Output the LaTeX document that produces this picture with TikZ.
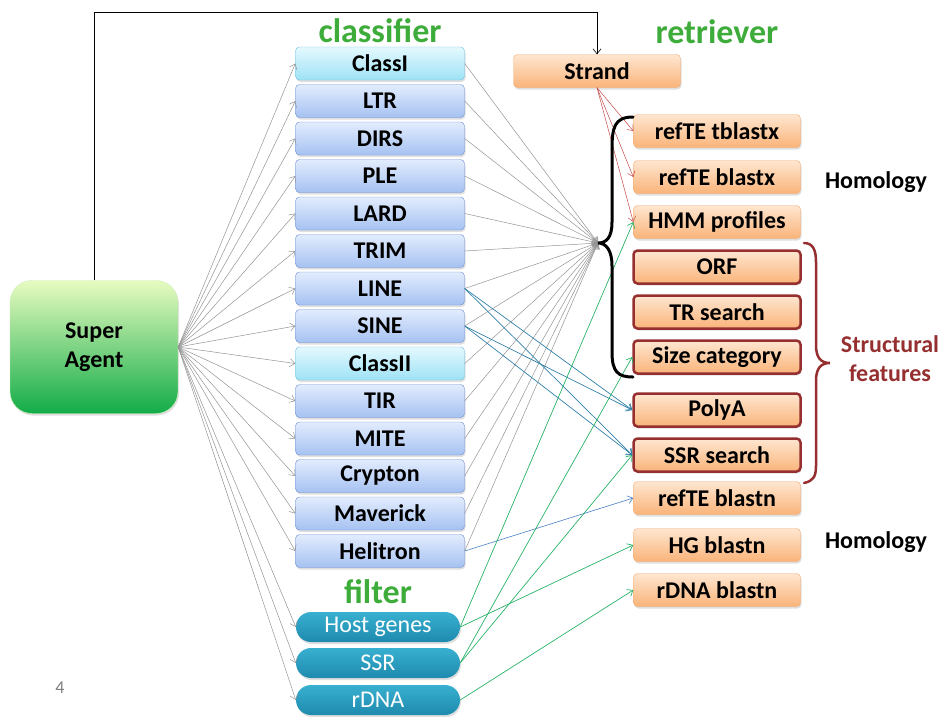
\documentclass[tikz,border=0pt]{standalone}
\usepackage{fontspec}
\setmainfont{Carlito}
\usetikzlibrary{arrows.meta,shadows}
\definecolor{clsline}{RGB}{112,142,212}
\definecolor{clstop}{RGB}{226,236,253}
\definecolor{clsbot}{RGB}{166,194,242}
\definecolor{cyline}{RGB}{112,192,222}
\definecolor{cytop}{RGB}{228,249,254}
\definecolor{cybot}{RGB}{158,226,246}
\definecolor{orline}{RGB}{244,170,112}
\definecolor{ortop}{RGB}{254,230,208}
\definecolor{orbot}{RGB}{250,180,122}
\definecolor{darkred}{RGB}{150,48,48}
\definecolor{titlegreen}{RGB}{62,172,58}
\definecolor{agtop}{RGB}{232,251,192}
\definecolor{agmid}{RGB}{176,232,144}
\definecolor{agbot}{RGB}{18,172,72}
\definecolor{fltop}{RGB}{56,176,208}
\definecolor{flbot}{RGB}{30,138,174}
\definecolor{tealline}{RGB}{48,128,168}
\definecolor{helline}{RGB}{72,128,196}
\definecolor{greenline}{RGB}{40,178,104}
\definecolor{redline}{RGB}{196,72,72}
\tikzset{
>={Straight Barb[length=5pt,width=8pt]},
box node/.style={rounded corners=4pt,minimum width=169pt,minimum height=33pt,inner sep=0pt,
  font=\fontsize{24}{26}\selectfont\bfseries,
  drop shadow={opacity=0.25,shadow xshift=1pt,shadow yshift=-2pt}},
class node/.style={box node,draw=clsline,top color=clstop,bottom color=clsbot},
top class node/.style={box node,draw=cyline,top color=cytop,bottom color=cybot},
ret node/.style={box node,minimum width=167pt,draw=orline,top color=ortop,bottom color=orbot},
struct node/.style={ret node,draw=darkred,line width=2.5pt},
filter node/.style={rounded corners=15pt,minimum width=164pt,minimum height=30pt,inner sep=0pt,
  top color=fltop,bottom color=flbot,text=white,font=\fontsize{24}{26}\selectfont,
  drop shadow={opacity=0.25,shadow xshift=1pt,shadow yshift=-2pt}},
agent node/.style={rounded corners=22pt,minimum width=168pt,minimum height=133pt,draw=agmid!70,
  top color=agtop,middle color=agmid,bottom color=agbot,align=center,
  font=\fontsize{24}{29}\selectfont\bfseries,
  drop shadow={opacity=0.25,shadow xshift=1pt,shadow yshift=-2pt}},
title label/.style={text=titlegreen,font=\fontsize{34}{36}\selectfont\bfseries},
side label/.style={font=\fontsize{24}{26}\selectfont\bfseries},
grey arrow/.style={->,color=gray!85,line width=0.5pt},
red arrow/.style={->,color=redline,line width=0.5pt},
blue arrow/.style={->,color=tealline,line width=0.7pt},
green arrow/.style={->,color=greenline,line width=0.7pt}}

\begin{document}
\begin{tikzpicture}[x=1pt,y=-1pt]
\useasboundingbox (0,0) rectangle (943,716);

% super agent
\node[agent node] (sa) at (94,347) {Super\\Agent};

% classifier
\node[title label] (tclass) at (380,31) {classifier};
\node[top class node] (c1) at (380,63.5) {ClassI};
\node[class node] (c2) at (380,101) {LTR};
\node[class node] (c3) at (380,138.5) {DIRS};
\node[class node] (c4) at (380,176) {PLE};
\node[class node] (c5) at (380,213.5) {LARD};
\node[class node] (c6) at (380,251) {TRIM};
\node[class node] (c7) at (380,288.5) {LINE};
\node[class node] (c8) at (380,326) {SINE};
\node[top class node] (c9) at (380,363.5) {ClassII};
\node[class node] (c10) at (380,401) {TIR};
\node[class node] (c11) at (380,438.5) {MITE};
\node[class node] (c12) at (380,476) {Crypton};
\node[class node] (c13) at (380,513.5) {Maverick};
\node[class node] (c14) at (380,551) {Helitron};

% filter
\node[title label] (tfilter) at (378,592) {filter};
\node[filter node] (f1) at (378,627) {Host genes};
\node[filter node] (f2) at (378,663) {SSR};
\node[filter node] (f3) at (378,700) {rDNA};

% retriever
\node[title label] (tret) at (717,32) {retriever};
\node[ret node] (strand) at (597,71) {Strand};
\node[ret node] (r1) at (717,131) {refTE tblastx};
\node[ret node] (r2) at (717,177) {refTE blastx};
\node[ret node] (r3) at (717,222) {HMM profiles};
\node[struct node] (s1) at (717,267) {ORF};
\node[struct node] (s2) at (717,312) {TR search};
\node[struct node] (s3) at (717,357) {Size category};
\node[struct node] (s4) at (717,410) {PolyA};
\node[struct node] (s5) at (717,455) {SSR search};
\node[ret node] (r4) at (717,498) {refTE blastn};
\node[ret node] (r5) at (717,545) {HG blastn};
\node[ret node] (r6) at (717,590) {rDNA blastn};

\node[side label] (hom1) at (876,182) {Homology};
\node[side label] (hom2) at (876,542) {Homology};
\node[side label,text=darkred,align=center,font=\fontsize{24}{29}\selectfont\bfseries] (sf) at (890,359) {Structural\\features};

\node[text=gray,font=\fontsize{18}{20}\selectfont] (pg) at (60,688) {4};

\coordinate (hub) at (598,243);
\coordinate (corner) at (94,12);

% super agent to classifier and filter
\path[grey arrow] (sa.east)
	edge (c1.west) edge (c2.west) edge (c3.west) edge (c4.west)
	edge (c5.west) edge (c6.west) edge (c7.west) edge (c8.west)
	edge (c9.west) edge (c10.west) edge (c11.west) edge (c12.west)
	edge (c13.west) edge (c14.west)
	edge (f1.west) edge (f2.west) edge (f3.west);

% classifier to retriever hub
\path[grey arrow]
	(c1.east) edge (hub) (c2.east) edge (hub) (c3.east) edge (hub)
	(c4.east) edge (hub) (c5.east) edge (hub) (c6.east) edge (hub)
	(c7.east) edge (hub) (c8.east) edge (hub) (c9.east) edge (hub)
	(c10.east) edge (hub) (c11.east) edge (hub) (c12.east) edge (hub)
	(c13.east) edge (hub) (c14.east) edge (hub);

\draw[->,line width=0.6pt] (sa.north) -- (corner) -| (strand.north);

\path[red arrow] (strand.south)
	edge (r1.west) edge (r2.west) edge (r3.west);

\path[blue arrow]
	(c7.east) edge (s4.west) edge (s5.west)
	(c8.east) edge (s4.west) edge (s5.west);
\path[->,color=helline,line width=0.6pt] (c14.east) edge (r4.west);

\path[green arrow]
	(f1.east) edge (r3.west) edge (r5.west)
	(f2.east) edge (s3.west) edge (s5.west)
	(f3.east) edge (r6.west);

% braces
\draw[line width=3pt,line cap=round] (633,117) .. controls (614,117) and (612,128) .. (612,150)
	-- (612,222) .. controls (612,238) and (606,243) .. (598,243)
	.. controls (606,243) and (612,250) .. (612,266)
	-- (612,352) .. controls (612,372) and (618,377) .. (633,377);
\draw[darkred,line width=2.5pt,line cap=round] (804,243) .. controls (813,243) and (816,250) .. (816,262)
	-- (816,345) .. controls (816,358) and (821,363) .. (830,363)
	.. controls (821,363) and (816,368) .. (816,381)
	-- (816,466) .. controls (816,477) and (813,481) .. (804,483);
\end{tikzpicture}
\end{document}
